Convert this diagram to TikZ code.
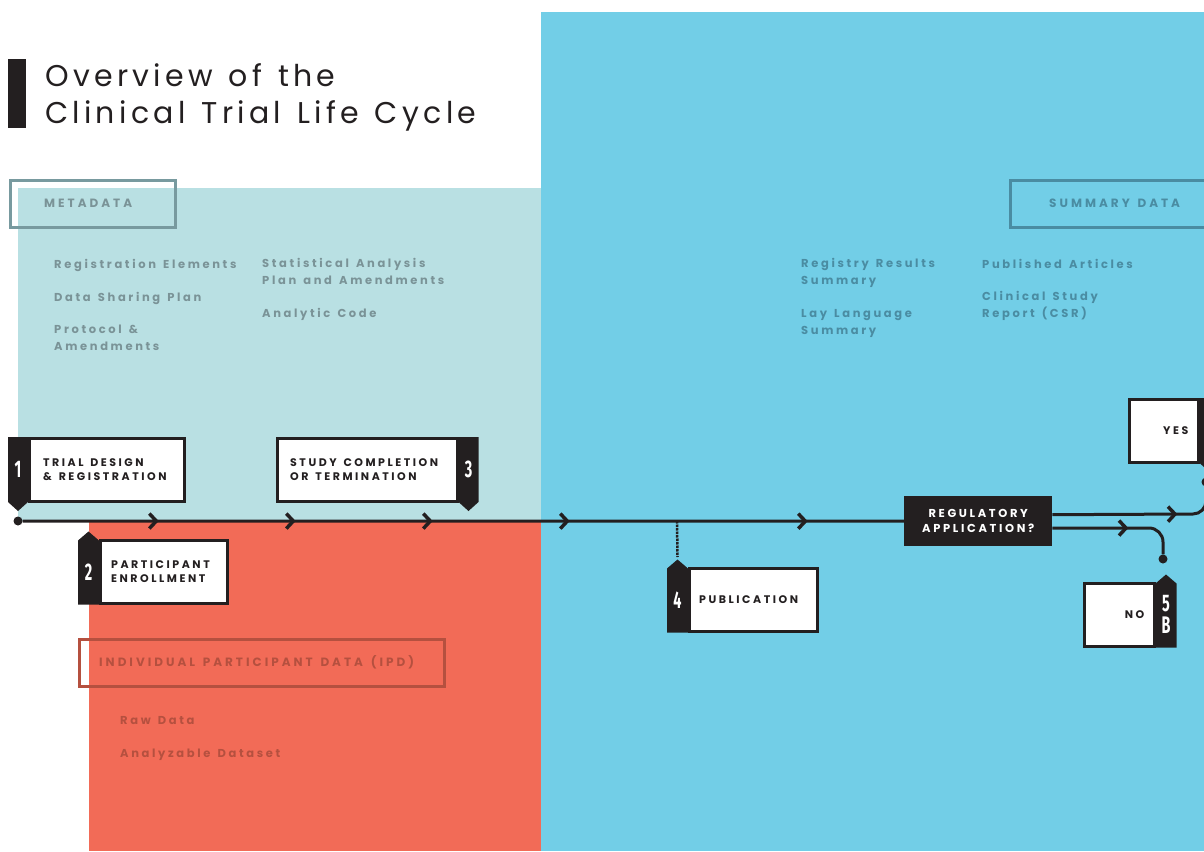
\documentclass[tikz,border=0pt]{standalone}
\usepackage{fontspec}
\setmainfont{Poppins}
\newfontfamily\headfont[LetterSpace=14.3, WordSpace=1.3]{Poppins}
\newfontfamily\capsfont[LetterSpace=23, WordSpace=1.4]{Poppins}
\newfontfamily\tagfont[LetterSpace=25, WordSpace=1.4]{Poppins}
\newfontfamily\numfont{Fira Sans}
\usetikzlibrary{calc, positioning, arrows.meta, decorations.markings}

\definecolor{ink}{HTML}{231F20}
\definecolor{metafill}{HTML}{B9E0E3}
\definecolor{ipdfill}{HTML}{F26B57}
\definecolor{sumfill}{HTML}{72CEE7}
\definecolor{metatext}{HTML}{7A9397}
\definecolor{metaedge}{HTML}{789A9F}
\definecolor{sumtext}{HTML}{4A8CA2}
\definecolor{ipdtext}{HTML}{B5503F}

\newcommand{\badgenum}[1]{\scalebox{.6}[1]{#1}}

\begin{document}
\begin{tikzpicture}[x=1pt, y=-1pt, >={Straight Barb[length=7pt, width=15pt, line width=3.5pt]}]
\tikzstyle{stage}=[draw=ink, fill=white, line width=2.5pt, minimum height=63pt, inner sep=0, anchor=north west]
\tikzstyle{stagetext}=[inner sep=0, align=left, text=ink, font=\capsfont\bfseries\fontsize{11}{14}\selectfont]
\tikzstyle{num}=[text=white, inner sep=0, align=center, font=\numfont\bfseries\fontsize{24}{22}\selectfont]
\tikzstyle{tagbox}=[draw, line width=2.5pt, minimum height=47pt, inner sep=0, anchor=north west]
\tikzstyle{tagtext}=[inner sep=0, font=\tagfont\bfseries\fontsize{12}{14}\selectfont]
\tikzstyle{item}=[anchor=base west, inner sep=0, align=left, font=\capsfont\bfseries\fontsize{11.5}{16.5}\selectfont]
\tikzstyle{dot}=[circle, fill=ink, inner sep=0, minimum size=9pt]
\tikzstyle{flow}=[draw=ink, line width=3pt, postaction={decorate}]

\clip (0,0) rectangle (1204,851);

% background panels
\fill[sumfill] (541,12) rectangle (1204,851);
\fill[metafill] (18,188) rectangle (541,521);
\fill[ipdfill] (89,521) rectangle (541,851);

% title (base = last line)
\fill[ink] (8,59) rectangle (26,128);
\node[anchor=base west, inner sep=0, align=left, text=ink, font=\headfont\fontsize{30}{37}\selectfont] (title) at (45,123) {Overview of the\\Clinical Trial Life Cycle};

% data categories
\node[tagbox, draw=metaedge, minimum width=165pt] (meta) at (9,179) {};
\node[tagtext, text=metatext, right=35pt of meta.west] (metalabel) {METADATA};
\node[tagbox, draw=sumtext, minimum width=225pt] (summary) at (1009,179) {};
\node[tagtext, text=sumtext, right=40pt of summary.west] (sumlabel) {SUMMARY DATA};
\node[tagbox, draw=ipdtext, minimum width=365pt] (ipd) at (78,638) {};
\node[tagtext, text=ipdtext, right=21pt of ipd.west] (ipdlabel) {INDIVIDUAL PARTICIPANT DATA (IPD)};

\node[item, text=metatext] (regel) at (54,268) {Registration Elements};
\node[item, text=metatext] (share) at (54,301) {Data Sharing Plan};
\node[item, text=metatext] (proto) at (54,350) {Protocol \&\\Amendments};
\node[item, text=metatext] (sap) at (262,284) {Statistical Analysis\\Plan and Amendments};
\node[item, text=metatext] (code) at (262,317) {Analytic Code};
\node[item, text=sumtext] (regres) at (801,284) {Registry Results\\Summary};
\node[item, text=sumtext] (lay) at (801,334) {Lay Language\\Summary};
\node[item, text=sumtext] (articles) at (982,268) {Published Articles};
\node[item, text=sumtext] (csr) at (982,317) {Clinical Study\\Report (CSR)};
\node[item, text=ipdtext] (raw) at (120,724) {Raw Data};
\node[item, text=ipdtext] (dataset) at (120,757) {Analyzable Dataset};

% stages
\node[stage, minimum width=155pt] (trial) at (28,437) {};
\node[stagetext, right=15pt of trial.west] (trialtext) {TRIAL DESIGN\\\& REGISTRATION};
\fill[ink] (trial.north west) -- ++(-20,0) -- ++(0,65) -- ++(10,9) -- ++(10,-9) -- cycle;
\node[num] (n1) at ($(trial.west)+(-10,0)$) {\badgenum{1}};

\node[stage, minimum width=127pt] (enrol) at (99,539) {};
\node[stagetext, right=12pt of enrol.west] (enroltext) {PARTICIPANT\\ENROLLMENT};
\fill[ink] (enrol.south west) -- ++(-21,0) -- ++(0,-64) -- ++(10.5,-9) -- ++(10.5,9) -- cycle;
\node[num] (n2) at ($(enrol.west)+(-10.5,0)$) {\badgenum{2}};

\node[stage, minimum width=180pt] (study) at (276,437) {};
\node[stagetext, right=14pt of study.west] (studytext) {STUDY COMPLETION\\OR TERMINATION};
\fill[ink] (study.north east) -- ++(20,0) -- ++(0,65) -- ++(-10,9) -- ++(-10,-9) -- cycle;
\node[num] (n3) at ($(study.east)+(10,0)$) {\badgenum{3}};

\node[stage, minimum width=128pt] (pub) at (688,567) {};
\node[stagetext, right=11pt of pub.west] (pubtext) {PUBLICATION};
\fill[ink] (pub.south west) -- ++(-21,0) -- ++(0,-64) -- ++(10.5,-9) -- ++(10.5,9) -- cycle;
\node[num] (n4) at ($(pub.west)+(-10.5,0)$) {\badgenum{4}};

\node[fill=ink, text=white, minimum width=148pt, minimum height=50pt, anchor=north west, align=center, font=\capsfont\bfseries\fontsize{11.5}{15}\selectfont] (reg) at (904,496) {REGULATORY\\APPLICATION?};

\node[stage, minimum width=69pt] (yes) at (1128,398) {};
\node[stagetext, left=11pt of yes.east] (yestext) {YES};
\fill[ink] (yes.north east) -- ++(20,0) -- ++(0,65) -- ++(-10,9) -- ++(-10,-9) -- cycle;

\node[stage, minimum width=70pt] (no) at (1083,582) {};
\node[stagetext, left=11pt of no.east] (notext) {NO};
\fill[ink] (no.south east) -- ++(21,0) -- ++(0,-64) -- ++(-10.5,-9) -- ++(-10.5,9) -- cycle;
\node[num] (n5) at ($(no.east)+(10.5,0)$) {\badgenum{5}\\\badgenum{B}};

% time line
\node[dot] (start) at (18,521) {};
\node[dot] (yesdot) at (1206,482) {};
\node[dot] (nodot) at (1163,559) {};
\coordinate (pubtap) at (677,521);
\coordinate (pubtip) at ($(pub.north west)+(-10.5,-10)$);

\draw[flow, decoration={markings,
    mark=at position 136pt with {\arrow{>}},
    mark=at position 273pt with {\arrow{>}},
    mark=at position 410pt with {\arrow{>}},
    mark=at position 547pt with {\arrow{>}},
    mark=at position 785pt with {\arrow{>}}}] (start) -- (reg);
\draw[ink, line width=2.5pt, densely dotted] (pubtap) -- (pubtip);

\draw[flow, decoration={markings, mark=at position 125pt with {\arrow{>}}}]
  ([yshift=6.5pt]reg.east) -- (1193,514) arc[start angle=-90, end angle=0, radius=13pt] -- (yesdot);
\draw[flow, decoration={markings, mark=at position 76pt with {\arrow{>}}}]
  ([yshift=-7pt]reg.east) -- (1149,528) arc[start angle=90, end angle=0, radius=14pt] -- (nodot);
\end{tikzpicture}
\end{document}
